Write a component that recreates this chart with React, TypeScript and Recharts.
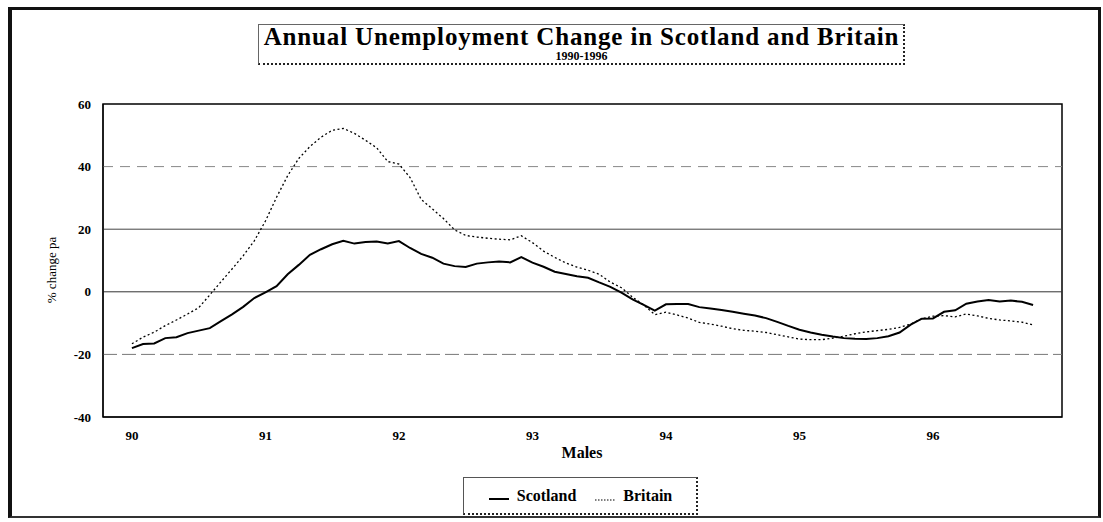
import React from "react";
import {
  LineChart,
  Line,
  XAxis,
  YAxis,
  ReferenceLine,
  ReferenceArea
} from "recharts";

// monthly, Jan 1990 .. Oct 1996, % change on a year earlier (males)
const scotland = [
  -18.0, -16.7, -16.5, -14.8, -14.5, -13.2, -12.4, -11.6, -9.4, -7.2, -4.8, -2.0,
  -0.2, 1.8, 5.6, 8.6, 11.8, 13.6, 15.2, 16.3, 15.4, 15.9, 16.1, 15.4,
  16.2, 14.0, 12.1, 10.9, 9.0, 8.2, 7.9, 9.0, 9.4, 9.7, 9.4, 11.1,
  9.3, 8.0, 6.4, 5.7, 5.0, 4.5, 3.0, 1.6, -0.3, -2.4, -4.2, -6.0,
  -4.0, -3.9, -3.9, -4.9, -5.3, -5.8, -6.4, -7.0, -7.6, -8.4, -9.6, -10.9,
  -12.1, -13.0, -13.7, -14.3, -14.8, -15.0, -15.1, -14.8, -14.2, -13.0, -10.5, -8.6,
  -8.5, -6.4, -5.9, -3.8, -3.1, -2.6, -3.1, -2.8, -3.2, -4.2
];

const britain = [
  -16.6, -14.5, -12.9, -10.8, -9.0, -7.1, -5.1, -1.0, 3.2, 7.3, 11.5, 16.3,
  22.6, 30.2, 37.1, 42.6, 46.4, 49.4, 51.6, 52.2, 50.6, 48.4, 46.0, 41.6,
  40.8, 36.5, 29.5, 26.5, 23.4, 19.8, 18.0, 17.5, 17.1, 16.8, 16.6, 17.9,
  15.7, 13.0, 11.0, 9.2, 7.9, 6.9, 5.6, 3.1, 1.3, -1.7, -4.2, -7.3,
  -6.5, -7.4, -8.4, -9.8, -10.3, -11.0, -11.8, -12.3, -12.6, -13.0, -13.7, -14.4,
  -15.1, -15.3, -15.3, -14.8, -14.2, -13.4, -12.8, -12.4, -12.0, -11.4, -10.3, -8.6,
  -7.8, -7.6, -8.0, -7.1, -7.7, -8.5, -9.0, -9.3, -9.7, -10.6
];

const yearLabels = ["90", "91", "92", "93", "94", "95", "96"];
const yTicks = [-40, -20, 0, 20, 40, 60];

const data = scotland.map((v, i) => ({ m: i, scotland: v, britain: britain[i] }));
const xTicks = yearLabels.map((_, i) => i * 12);
const xMin = -2.6;
const xMax = 83.6;

const serif = '"Liberation Serif", "Times New Roman", serif';

const tickStyle = { fill: "#000", fontSize: 13, fontWeight: 700, fontFamily: serif };

function LegendBox() {
  return (
    <div
      style={{
        position: "absolute",
        left: 463,
        top: 477,
        width: 235,
        height: 38,
        boxSizing: "border-box",
        border: "1px solid #555",
        borderRight: "2px dotted #222",
        borderBottom: "2px dotted #222",
        display: "flex",
        alignItems: "center",
        justifyContent: "center",
        fontFamily: serif,
        fontWeight: 700,
        fontSize: 16,
        color: "#000"
      }}
    >
      <svg width="22" height="12" style={{ marginRight: 7 }}>
        <line x1="1" y1="9" x2="21" y2="9" stroke="#000" strokeWidth="2" />
      </svg>
      <span style={{ marginRight: 18 }}>Scotland</span>
      <svg width="22" height="12" style={{ marginRight: 7 }}>
        <line x1="1" y1="10" x2="21" y2="10" stroke="#000" strokeWidth="1.2" strokeDasharray="1.5 1.5" />
      </svg>
      <span>Britain</span>
    </div>
  );
}

export default function App() {
  return (
    <div style={{ position: "absolute", left: 0, top: 0, width: 1103, height: 522, background: "#fff" }}>
      {/* outer frame */}
      <div
        style={{
          position: "absolute",
          left: 8,
          top: 7,
          width: 1093,
          height: 511,
          boxSizing: "border-box",
          borderTop: "3px solid #111",
          borderLeft: "4px solid #111",
          borderRight: "3px solid #111",
          borderBottom: "2px solid #333"
        }}
      />
      {/* title box */}
      <div
        style={{
          position: "absolute",
          left: 258,
          top: 24,
          width: 647,
          height: 41,
          boxSizing: "border-box",
          border: "1px solid #666",
          borderRight: "2px dotted #222",
          borderBottom: "2px dotted #222",
          fontFamily: serif,
          fontWeight: 700,
          color: "#000"
        }}
      />
      <div
        style={{
          position: "absolute",
          left: 258,
          width: 647,
          top: 25,
          textAlign: "center",
          fontFamily: serif,
          fontWeight: 700,
          fontSize: 25,
          lineHeight: "24px",
          letterSpacing: 0.85,
          color: "#000"
        }}
      >
        Annual Unemployment Change in Scotland and Britain
      </div>
      <div
        style={{
          position: "absolute",
          left: 258,
          width: 647,
          top: 51,
          textAlign: "center",
          fontFamily: serif,
          fontWeight: 700,
          fontSize: 12,
          lineHeight: "11px",
          color: "#000"
        }}
      >
        1990-1996
      </div>
      {/* y axis title */}
      <div
        style={{
          position: "absolute",
          left: 52,
          top: 270,
          transform: "translate(-50%, -50%) rotate(-90deg)",
          fontFamily: serif,
          fontSize: 13,
          whiteSpace: "nowrap",
          color: "#000"
        }}
      >
        % change pa
      </div>
      {/* x axis title */}
      <div
        style={{
          position: "absolute",
          left: 582,
          top: 453,
          transform: "translate(-50%, -50%)",
          fontFamily: serif,
          fontWeight: 700,
          fontSize: 16,
          color: "#000"
        }}
      >
        Males
      </div>
      <div style={{ position: "absolute", left: 0, top: 0 }}>
        <LineChart
          width={1103}
          height={522}
          data={data}
          margin={{ top: 104, right: 41, left: 43, bottom: 75 }}
        >
          <XAxis
            dataKey="m"
            type="number"
            domain={[xMin, xMax]}
            ticks={xTicks}
            tickFormatter={(v) => yearLabels[Math.round(v / 12)]}
            tickLine={false}
            tickMargin={8}
            height={30}
            stroke="#000"
            tick={tickStyle}
            allowDataOverflow
          />
          <YAxis
            type="number"
            domain={[-40, 60]}
            ticks={yTicks}
            tickLine={false}
            tickMargin={6}
            width={60}
            stroke="#000"
            tick={tickStyle}
          />
          <ReferenceLine y={40} stroke="#888" strokeDasharray="10 7" />
          <ReferenceLine y={20} stroke="#444" />
          <ReferenceLine y={0} stroke="#333" />
          <ReferenceLine y={-20} stroke="#777" strokeDasharray="14 5" />
          <ReferenceArea
            x1={xMin}
            x2={xMax}
            y1={-40}
            y2={60}
            fill="none"
            stroke="#000"
            strokeWidth={1.5}
            fillOpacity={0}
          />
          <Line
            type="linear"
            dataKey="britain"
            name="Britain"
            stroke="#000"
            strokeWidth={1.3}
            strokeDasharray="2 2.5"
            dot={false}
            isAnimationActive={false}
          />
          <Line
            type="linear"
            dataKey="scotland"
            name="Scotland"
            stroke="#000"
            strokeWidth={2}
            dot={false}
            isAnimationActive={false}
          />
        </LineChart>
      </div>
      <LegendBox />
    </div>
  );
}
